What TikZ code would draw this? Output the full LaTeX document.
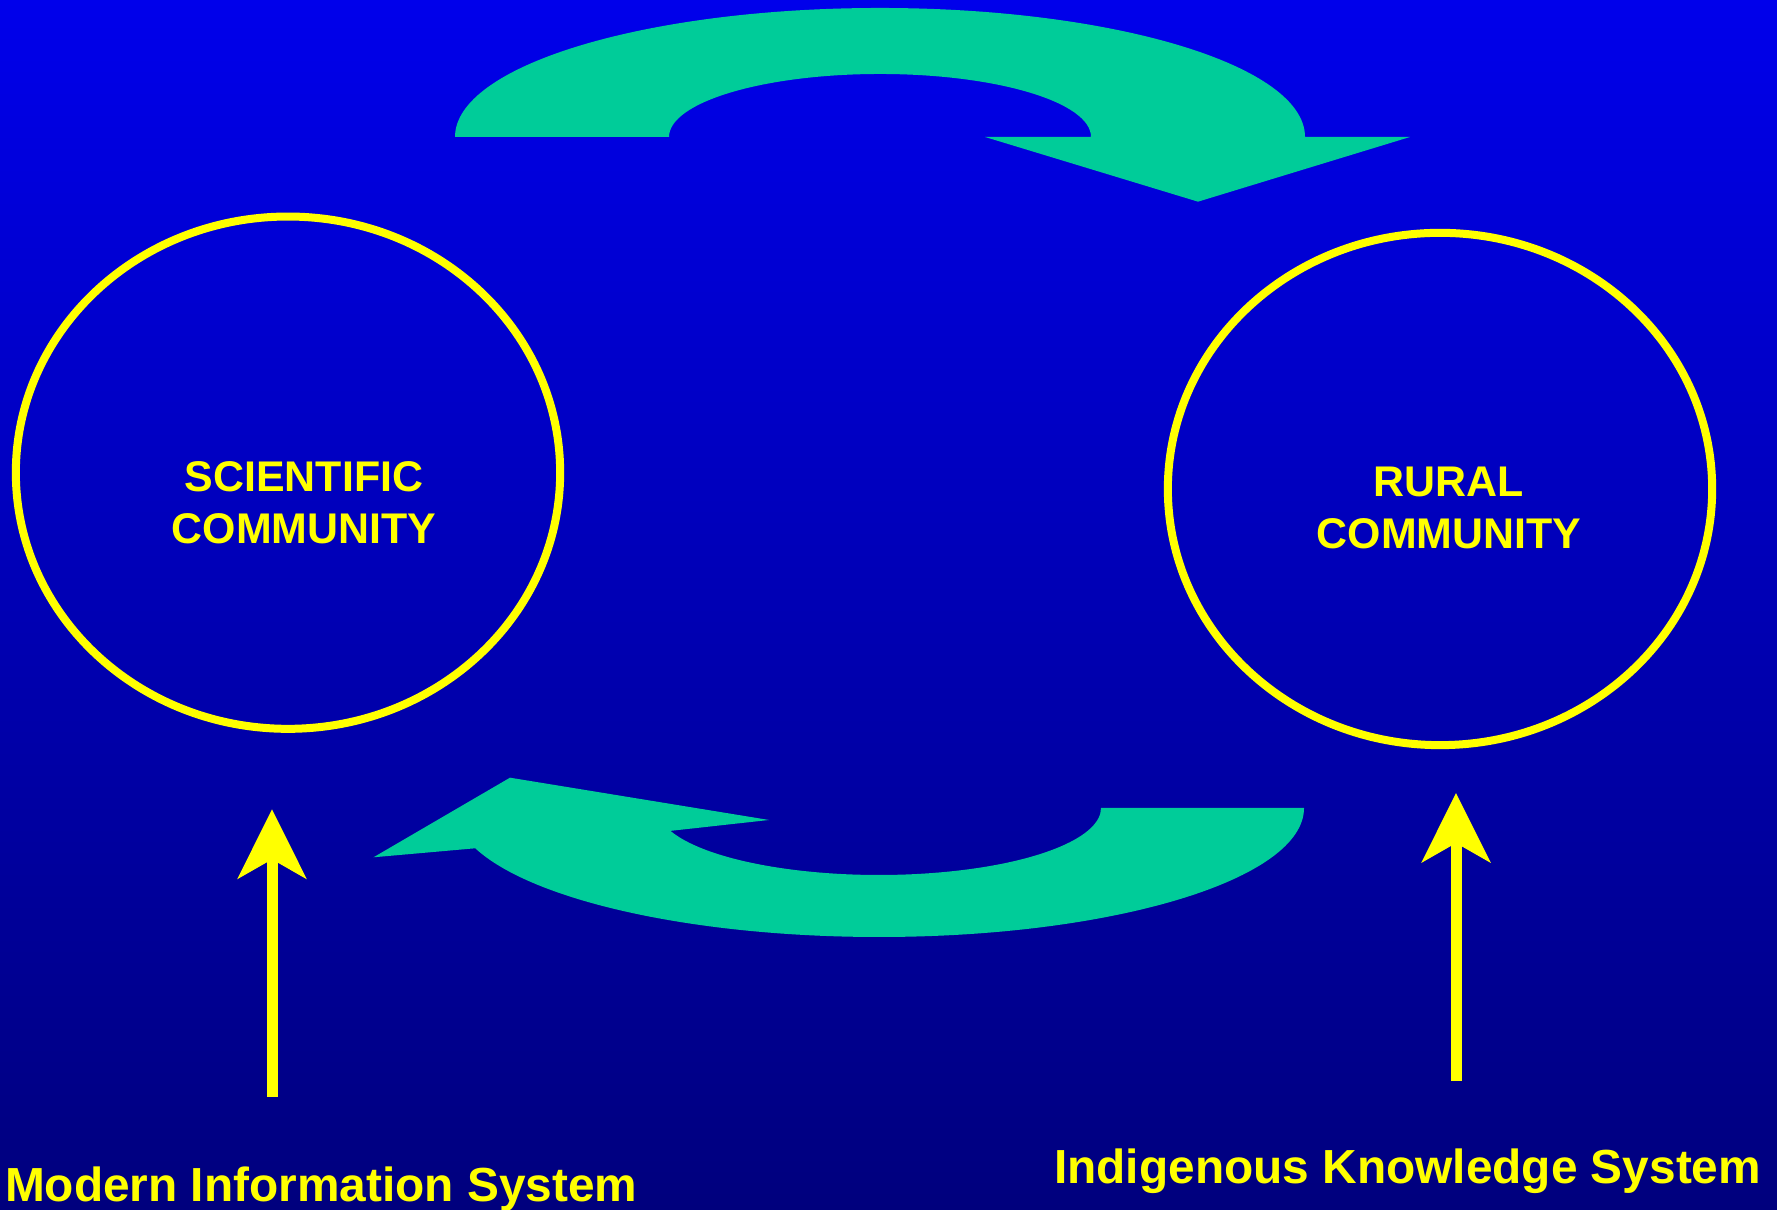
\documentclass[tikz,border=0pt]{standalone}
\usepackage{fontspec}
\setmainfont{Liberation Sans}
\usetikzlibrary{shapes.geometric,arrows.meta}
\definecolor{bgtop}{HTML}{0000EB}
\definecolor{bgbottom}{HTML}{00007D}
\definecolor{labelyellow}{HTML}{FFFF00}
\definecolor{flowgreen}{HTML}{00CC99}

\begin{document}
\begin{tikzpicture}[x=0.01cm,y=0.01cm,
    community/.style={ellipse,draw=labelyellow,line width=0.08cm,minimum width=5.44cm,minimum height=5.12cm,inner sep=0pt},
    commtext/.style={text=labelyellow,font=\bfseries\fontsize{12.2pt}{14.9pt}\selectfont,align=center,inner sep=0pt},
    systext/.style={text=labelyellow,font=\bfseries\fontsize{13.6pt}{16pt}\selectfont,inner sep=0pt,anchor=base west},
    inflow/.style={draw=labelyellow,line width=0.11cm,-{Stealth[length=0.69cm,width=0.68cm,inset=0.19cm]}}]
% Background
\shade[top color=bgtop,bottom color=bgbottom] (0,0) rectangle (1777,1210);
\useasboundingbox (0,0) rectangle (1777,1210);

% Communities
\node[community] (sci) at (288,737.3) {};
\node[community] (rural) at (1440,721) {};
\node[commtext] (scilabel) at (304,707.5) {SCIENTIFIC\\COMMUNITY};
\node[commtext] (rurallabel) at (1449,702) {RURAL\\COMMUNITY};

% Exchange: top goes right, bottom comes back
\fill[flowgreen] (455,1073) arc[start angle=180,end angle=0,x radius=425,y radius=129]
    -- (1410,1073) -- (1198,1008.3) -- (985,1073) -- (1091,1073)
    arc[start angle=0,end angle=180,x radius=211,y radius=63] -- cycle;
\fill[flowgreen] (1304,402) arc[start angle=360,end angle=198.2,x radius=425,y radius=129]
    -- (373.5,352.7) -- (510,432.3) -- (769,390) -- (670.4,379.1)
    arc[start angle=200,end angle=360,x radius=222,y radius=67] -- cycle;

% Knowledge systems
\node[systext] (mis) at (4.3,8.3) {Modern Information System};
\node[systext] (iks) at (1053.5,26) {Indigenous Knowledge System};
\coordinate (misfoot) at (272,113);
\coordinate (scitip) at (272,400.7);
\coordinate (iksfoot) at (1456,129);
\coordinate (ruraltip) at (1456,417);
\draw[inflow] (misfoot) -- (scitip);
\draw[inflow] (iksfoot) -- (ruraltip);
\end{tikzpicture}
\end{document}
